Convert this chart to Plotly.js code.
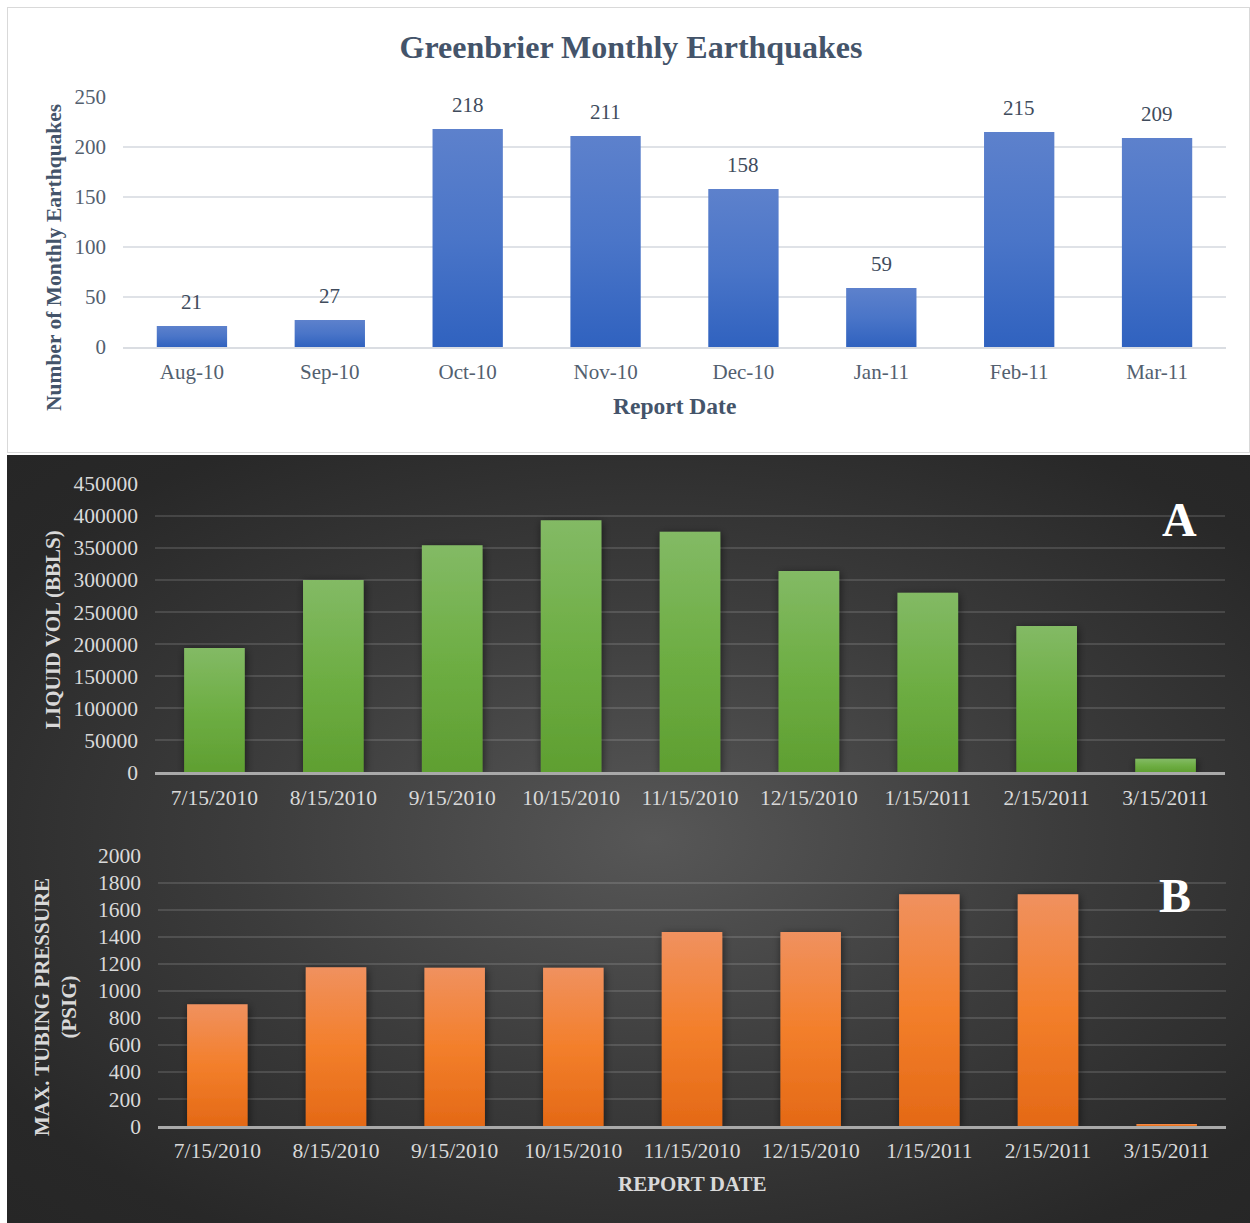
<!DOCTYPE html>
<html>
<head>
<meta charset="utf-8">
<script src="https://cdn.plot.ly/plotly-3.0.1.min.js"></script>
<style>
  html, body { margin: 0; padding: 0; background: #ffffff; }
  #stage { position: relative; width: 1250px; height: 1223px; overflow: hidden; background: #ffffff; }
  #lightPanel {
    position: absolute; left: 7px; top: 7px; width: 1241px; height: 444px;
    border: 1px solid #d9d9d9; background: #ffffff;
  }
  #darkPanel {
    position: absolute; left: 7px; top: 455px; width: 1243px; height: 768px;
    background: radial-gradient(ellipse farthest-corner at 52% 50%, #575757 0%, #3c3c3c 45%, #282828 85%, #262626 100%);
  }
  #chart { position: absolute; left: 0; top: 0; width: 1250px; height: 1223px; }
</style>
</head>
<body>
<div id="stage">
  <div id="lightPanel"></div>
  <div id="darkPanel"></div>
  <div id="chart"></div>
</div>
<script>
// Monthly earthquake counts
const quakeMonths = ['Aug-10', 'Sep-10', 'Oct-10', 'Nov-10', 'Dec-10', 'Jan-11', 'Feb-11', 'Mar-11'];
const quakeCounts = [21, 27, 218, 211, 158, 59, 215, 209];

// Injection well report dates
const reportDates = ['7/15/2010', '8/15/2010', '9/15/2010', '10/15/2010', '11/15/2010',
                     '12/15/2010', '1/15/2011', '2/15/2011', '3/15/2011'];
// Liquid volume injected (BBLS)
const liquidVolume = [194000, 300000, 354000, 393000, 375000, 314000, 280000, 228000, 21000];
// Maximum tubing pressure (PSIG)
const tubingPressure = [900, 1175, 1170, 1170, 1435, 1435, 1715, 1715, 15];

const W = 1250, H = 1223;
const px = v => v / W;
const py = v => 1 - v / H;

const SERIF = 'Liberation Serif, Times New Roman, serif';
const SLATE = '#44546a';
const SLATE_TICK = '#53606f';
const LIGHT = '#d9d9d9';

const traces = [
  { type: 'bar', x: quakeMonths, y: quakeCounts, xaxis: 'x', yaxis: 'y',
    marker: { color: '#4472c4', line: { width: 0 } }, hoverinfo: 'x+y' },
  { type: 'bar', x: reportDates, y: liquidVolume, xaxis: 'x2', yaxis: 'y2',
    marker: { color: '#70ad47', line: { width: 0 } }, hoverinfo: 'x+y' },
  { type: 'bar', x: reportDates, y: tubingPressure, xaxis: 'x3', yaxis: 'y3',
    marker: { color: '#ed7d31', line: { width: 0 } }, hoverinfo: 'x+y' }
];

const tickFontLight = { family: SERIF, size: 21, color: SLATE_TICK };
const tickFontDark = { family: SERIF, size: 21.5, color: LIGHT };

const annotations = [];

// Value labels above each earthquake bar
quakeMonths.forEach((m, i) => {
  annotations.push({
    x: m, y: quakeCounts[i], xref: 'x', yref: 'y',
    text: String(quakeCounts[i]), showarrow: false,
    xanchor: 'center', yanchor: 'bottom', yshift: 10,
    font: { family: SERIF, size: 21, color: '#404b5c' }
  });
});

// Axis titles and panel letters
annotations.push(
  { xref: 'paper', yref: 'paper', x: px(54), y: py(258), textangle: -90,
    text: '<b>Number of Monthly Earthquakes</b>', showarrow: false,
    xanchor: 'center', yanchor: 'middle',
    font: { family: SERIF, size: 21.5, color: SLATE } },
  { xref: 'paper', yref: 'paper', x: px(674), y: py(406),
    text: '<b>Report Date</b>', showarrow: false,
    xanchor: 'center', yanchor: 'middle',
    font: { family: SERIF, size: 23.5, color: SLATE } },
  { xref: 'paper', yref: 'paper', x: px(53), y: py(630), textangle: -90,
    text: '<b>LIQUID VOL (BBLS)</b>', showarrow: false,
    xanchor: 'center', yanchor: 'middle',
    font: { family: SERIF, size: 21, color: LIGHT } },
  { xref: 'paper', yref: 'paper', x: px(55), y: py(1007), textangle: -90,
    text: '<b>MAX. TUBING PRESSURE<br>(PSIG)</b>', showarrow: false,
    xanchor: 'center', yanchor: 'middle',
    font: { family: SERIF, size: 21, color: LIGHT } },
  { xref: 'paper', yref: 'paper', x: px(692), y: py(1184),
    text: '<b>REPORT DATE</b>', showarrow: false,
    xanchor: 'center', yanchor: 'middle',
    font: { family: SERIF, size: 21, color: LIGHT } },
  { xref: 'paper', yref: 'paper', x: px(1179), y: py(519),
    text: '<b>A</b>', showarrow: false,
    xanchor: 'center', yanchor: 'middle',
    font: { family: SERIF, size: 48, color: '#ffffff' } },
  { xref: 'paper', yref: 'paper', x: px(1175), y: py(895),
    text: '<b>B</b>', showarrow: false,
    xanchor: 'center', yanchor: 'middle',
    font: { family: SERIF, size: 48, color: '#ffffff' } }
);

const layout = {
  width: W, height: H,
  margin: { l: 0, r: 0, t: 0, b: 0 },
  paper_bgcolor: 'rgba(0,0,0,0)',
  plot_bgcolor: 'rgba(0,0,0,0)',
  showlegend: false,
  bargap: 0.49,
  title: {
    text: '<b>Greenbrier Monthly Earthquakes</b>',
    x: px(631), xanchor: 'center', y: py(47), yanchor: 'middle',
    font: { family: SERIF, size: 32, color: SLATE }
  },
  xaxis: {
    domain: [px(123), px(1226)], anchor: 'y', type: 'category',
    showgrid: false, showline: true, linecolor: '#dadde2', linewidth: 2,
    layer: 'above traces', ticks: '', tickfont: tickFontLight, ticklabelstandoff: 5
  },
  yaxis: {
    domain: [py(347), py(97)], anchor: 'x', range: [0, 250], dtick: 50,
    showgrid: true, gridcolor: '#dfe2e7', gridwidth: 2, zeroline: false,
    showline: false, ticks: '', tickfont: tickFontLight, ticklabelstandoff: 16
  },
  xaxis2: {
    domain: [px(155), px(1225)], anchor: 'y2', type: 'category',
    showgrid: false, showline: true, linecolor: '#a9a9a9', linewidth: 2.5,
    layer: 'above traces', ticks: '', tickfont: tickFontDark, ticklabelstandoff: 4
  },
  yaxis2: {
    domain: [py(772.3), py(483.7)], anchor: 'x2', range: [0, 450000], dtick: 50000,
    showgrid: true, gridcolor: 'rgba(255,255,255,0.13)', gridwidth: 2, zeroline: false,
    showline: false, ticks: '', tickfont: tickFontDark, ticklabelstandoff: 16,
    tickformat: 'd'
  },
  xaxis3: {
    domain: [px(158), px(1226)], anchor: 'y3', type: 'category',
    showgrid: false, showline: true, linecolor: '#a9a9a9', linewidth: 2.5,
    layer: 'above traces', ticks: '', tickfont: tickFontDark, ticklabelstandoff: 4
  },
  yaxis3: {
    domain: [py(1126), py(855.7)], anchor: 'x3', range: [0, 2000], dtick: 200,
    showgrid: true, gridcolor: 'rgba(255,255,255,0.13)', gridwidth: 2, zeroline: false,
    showline: false, ticks: '', tickfont: tickFontDark, ticklabelstandoff: 16,
    tickformat: 'd'
  },
  annotations: annotations
};

// Vertical gradient fills and a soft shadow for the bars
function addBarStyling(gd) {
  const svg = gd.querySelector('svg.main-svg');
  const NS = 'http://www.w3.org/2000/svg';
  const defs = document.createElementNS(NS, 'defs');
  const grads = {
    'bar-blue': ['#5d81cc', '#4a75c8', '#3062bf'],
    'bar-green': ['#83ba65', '#6eae44', '#5f9f31'],
    'bar-orange': ['#f0915f', '#f37f2b', '#e46916']
  };
  Object.keys(grads).forEach(id => {
    const g = document.createElementNS(NS, 'linearGradient');
    g.setAttribute('id', id);
    g.setAttribute('x1', '0'); g.setAttribute('y1', '0');
    g.setAttribute('x2', '0'); g.setAttribute('y2', '1');
    grads[id].forEach((c, k) => {
      const s = document.createElementNS(NS, 'stop');
      s.setAttribute('offset', String(k / 2));
      s.setAttribute('stop-color', c);
      g.appendChild(s);
    });
    defs.appendChild(g);
  });
  const f = document.createElementNS(NS, 'filter');
  f.setAttribute('id', 'bar-shadow');
  f.setAttribute('x', '-30%'); f.setAttribute('y', '-10%');
  f.setAttribute('width', '160%'); f.setAttribute('height', '120%');
  const ds = document.createElementNS(NS, 'feDropShadow');
  ds.setAttribute('dx', '1'); ds.setAttribute('dy', '2');
  ds.setAttribute('stdDeviation', '4');
  ds.setAttribute('flood-color', '#000000');
  ds.setAttribute('flood-opacity', '0.55');
  f.appendChild(ds);
  defs.appendChild(f);
  svg.insertBefore(defs, svg.firstChild);

  const apply = (sel, grad, shadow) => {
    gd.querySelectorAll(sel + ' .barlayer .point path').forEach(p => {
      p.style.fill = 'url(#' + grad + ')';
      if (shadow) p.setAttribute('filter', 'url(#bar-shadow)');
    });
  };
  apply('.subplot.xy', 'bar-blue', false);
  apply('.subplot.x2y2', 'bar-green', true);
  apply('.subplot.x3y3', 'bar-orange', true);
}

Plotly.newPlot('chart', traces, layout, { staticPlot: true, displayModeBar: false })
  .then(addBarStyling);
</script>
</body>
</html>
